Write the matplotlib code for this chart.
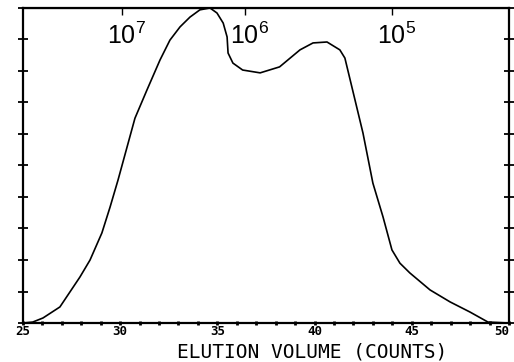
import matplotlib.pyplot as plt
from matplotlib.ticker import MultipleLocator

# points (volume d'élution, signal normalisé)
vol = [25.0, 25.5, 26.03, 26.9, 27.93, 28.45, 29.06, 29.48, 29.89, 30.76, 31.38, 32.05,
       32.56, 33.08, 33.59, 34.1, 34.62, 34.98, 35.3, 35.5, 35.55, 35.8, 36.3, 37.2,
       38.2, 39.25, 39.92, 40.64, 41.3, 41.56, 42.08, 42.49, 43.0, 43.52, 43.98, 44.39,
       44.9, 45.94, 46.97, 47.99, 48.92, 50.0]
sig = [0.0, 0.003, 0.016, 0.051, 0.146, 0.2, 0.286, 0.368, 0.454, 0.65, 0.74, 0.835,
       0.898, 0.94, 0.971, 0.994, 1.0, 0.984, 0.952, 0.908, 0.857, 0.825, 0.803, 0.794,
       0.813, 0.867, 0.889, 0.892, 0.867, 0.841, 0.708, 0.603, 0.444, 0.337, 0.232, 0.19,
       0.159, 0.105, 0.067, 0.035, 0.003, 0.0]

# calibration des masses molaires (axe du haut)
mm_pos = [30.1, 36.4, 44.0]
mm_exp = ['7', '6', '5']

xmin, xmax = 25, 50
xlabels = [25, 30, 35, 40, 45, 50]

fig = plt.figure(figsize=(5.14, 3.62), dpi=100)
ax = fig.add_axes([0.0447, 0.1077, 0.9455, 0.8703])

ax.plot(vol, sig, color='black', lw=1.2)

ax.set_xlim(xmin, xmax)
ax.set_ylim(0, 1)

for s in ax.spines.values():
    s.set_linewidth(1.6)

ax.set_xticks(xlabels)
ax.xaxis.set_minor_locator(MultipleLocator(1))
ax.set_xticklabels([str(v) for v in xlabels], fontsize=9, fontweight='bold',
                   family='DejaVu Sans Mono')
ax.get_xticklabels()[-1].set_horizontalalignment('right')
ax.tick_params(axis='x', which='both', direction='inout', length=3, width=2, pad=0)

ax.yaxis.set_major_locator(MultipleLocator(0.1))
ax.tick_params(axis='y', which='both', direction='inout', length=7, width=1.3,
               left=True, right=True, labelleft=False)

# petites graduations en haut
top = ax.secondary_xaxis('top')
top.set_xticks(mm_pos)
top.set_xticklabels([])
top.tick_params(direction='in', length=5, width=1)

for p, e in zip(mm_pos, mm_exp):
    ax.annotate(r'$\mathregular{10^{%s}}$' % e, xy=(p, 1), xycoords=('data', 'axes fraction'),
                xytext=(-15, -36), textcoords='offset pixels', ha='left', va='baseline',
                fontsize=18, family='Liberation Sans')

fig.text(312 / 514, 1 - 352 / 362, 'ELUTION VOLUME (COUNTS)', fontsize=14,
         family='DejaVu Sans Mono', ha='center', va='center')

plt.savefig('out.png', dpi=100)
